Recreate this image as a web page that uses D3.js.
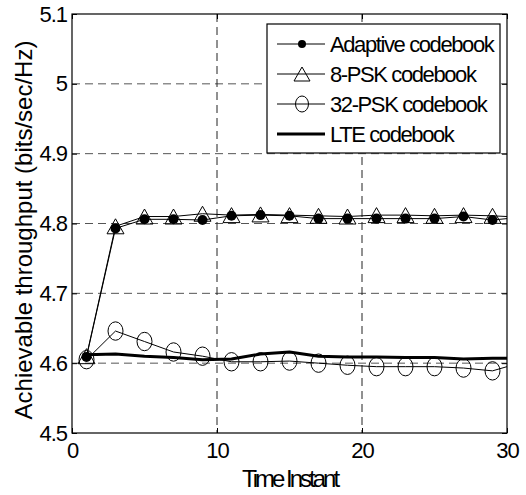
<!DOCTYPE html>
<html>
<head>
<meta charset="utf-8">
<script src="https://cdn.jsdelivr.net/npm/d3@7"></script>
<style>
  body { margin: 0; background: #fff; }
  svg { display: block; font-family: Arial, "Liberation Sans", sans-serif; }
</style>
</head>
<body>
<div id="chart"></div>
<script>
// Data (markers only on the odd instants)
const timeInstants = [1, 3, 5, 7, 9, 11, 13, 15, 17, 19, 21, 23, 25, 27, 29, 30];
const adaptive = [4.609, 4.793, 4.806, 4.806, 4.805, 4.811, 4.812, 4.811, 4.807, 4.807, 4.807, 4.807, 4.807, 4.810, 4.805, 4.807];
const psk8 = [4.610, 4.796, 4.810, 4.810, 4.814, 4.812, 4.813, 4.812, 4.811, 4.810, 4.812, 4.812, 4.811, 4.812, 4.811, 4.810];
const psk32 = [4.605, 4.646, 4.631, 4.616, 4.610, 4.602, 4.602, 4.603, 4.600, 4.597, 4.595, 4.595, 4.595, 4.593, 4.589, 4.595];
const lte = [4.612, 4.613, 4.610, 4.608, 4.605, 4.606, 4.613, 4.616, 4.610, 4.609, 4.609, 4.608, 4.608, 4.606, 4.607, 4.607];

const seriesNames = ["Adaptive codebook", "8-PSK codebook", "32-PSK codebook", "LTE codebook"];
const xTicks = [0, 10, 20, 30];
const yTicks = [4.5, 4.6, 4.7, 4.8, 4.9, 5, 5.1];

// Dimensions
const W = 526, H = 495;
const margin = { top: 14, right: 19, bottom: 62, left: 72 };
const width = W - margin.left - margin.right;
const height = H - margin.top - margin.bottom;

const svg = d3.select("#chart").append("svg")
    .attr("width", W)
    .attr("height", H);

const g = svg.append("g")
    .attr("transform", `translate(${margin.left},${margin.top})`);

// Scales
const x = d3.scaleLinear().domain([0, 30]).range([0, width]);
const y = d3.scaleLinear().domain([4.5, 5.1]).range([height, 0]);

// Dashed grid
g.append("g").selectAll("line")
    .data(yTicks.slice(1, -1))
    .enter().append("line")
    .attr("x1", 0).attr("x2", width)
    .attr("y1", d => y(d)).attr("y2", d => y(d))
    .attr("stroke", "#555").attr("stroke-dasharray", "8,5");

g.append("g").selectAll("line")
    .data(xTicks.slice(1, -1))
    .enter().append("line")
    .attr("x1", d => x(d)).attr("x2", d => x(d))
    .attr("y1", 0).attr("y2", height)
    .attr("stroke", "#222").attr("stroke-dasharray", "8,5");

// Axes (MATLAB-style inward ticks, box all round)
const fmt = d => String(+d.toFixed(1));
const styleAxis = sel => {
    sel.select(".domain").remove();
    sel.selectAll("line").attr("stroke", "#000");
    sel.selectAll("text")
        .attr("font-family", "Arial, 'Liberation Sans', sans-serif")
        .attr("font-size", 22)
        .attr("letter-spacing", "-1px")
        .attr("fill", "#000");
};

g.append("g")
    .attr("transform", `translate(0,${height})`)
    .call(d3.axisBottom(x).tickValues(xTicks).tickFormat(fmt).tickSize(-5).tickPadding(9))
    .call(styleAxis);

g.append("g")
    .call(d3.axisLeft(y).tickValues(yTicks).tickFormat(fmt).tickSize(-5).tickPadding(5))
    .call(styleAxis);

g.append("g")
    .call(d3.axisTop(x).tickValues(xTicks).tickFormat("").tickSize(-5))
    .call(styleAxis);

g.append("g")
    .attr("transform", `translate(${width},0)`)
    .call(d3.axisRight(y).tickValues(yTicks).tickFormat("").tickSize(-5))
    .call(styleAxis);

g.append("rect")
    .attr("width", width).attr("height", height)
    .attr("fill", "none").attr("stroke", "#000").attr("stroke-width", 1.2);

// Series
const series = [
    { name: seriesNames[0], values: adaptive, marker: "dot", lw: 1 },
    { name: seriesNames[1], values: psk8, marker: "triangle", lw: 1 },
    { name: seriesNames[2], values: psk32, marker: "ellipse", lw: 1 },
    { name: seriesNames[3], values: lte, marker: null, lw: 3 }
];

const line = d3.line()
    .x(d => x(d.t))
    .y(d => y(d.v));

const triPath = (w, h) => `M0,${-h / 2}L${w / 2},${h / 2}L${-w / 2},${h / 2}Z`;

function drawMarker(sel, type, big) {
    if (type === "dot") {
        sel.append("circle").attr("r", big ? 5 : 4).attr("fill", "#000");
    } else if (type === "triangle") {
        sel.append("path").attr("d", big ? triPath(17, 15) : triPath(16, 14))
            .attr("fill", "none").attr("stroke", "#000").attr("stroke-width", 1);
    } else if (type === "ellipse") {
        sel.append("ellipse").attr("rx", big ? 7.5 : 6.5).attr("ry", big ? 9.2 : 8)
            .attr("fill", "none").attr("stroke", "#000").attr("stroke-width", 1);
    }
}

series.forEach(s => {
    const pts = timeInstants.map((t, i) => ({ t: t, v: s.values[i] }));
    g.append("path")
        .datum(pts)
        .attr("fill", "none")
        .attr("stroke", "#000")
        .attr("stroke-width", s.lw)
        .attr("stroke-linejoin", "round")
        .attr("d", line);
    if (s.marker) {
        g.append("g").selectAll("g")
            .data(pts.filter(p => p.t % 2 === 1))
            .enter().append("g")
            .attr("transform", p => `translate(${x(p.t)},${y(p.v)})`)
            .each(function() { drawMarker(d3.select(this), s.marker, true); });
    }
});

// Legend
const legend = svg.append("g").attr("transform", "translate(267,24)");
legend.append("rect")
    .attr("width", 233).attr("height", 129)
    .attr("fill", "#fff").attr("stroke", "#000").attr("stroke-width", 1.2);

const rows = legend.selectAll(".row")
    .data(series)
    .enter().append("g")
    .attr("class", "row")
    .attr("transform", (d, i) => `translate(0,${20 + i * 30})`);

rows.append("line")
    .attr("x1", 10).attr("x2", 58)
    .attr("stroke", "#000")
    .attr("stroke-width", d => d.lw);

rows.each(function(d) {
    if (d.marker) {
        const m = d3.select(this).append("g").attr("transform", "translate(35,0)");
        drawMarker(m, d.marker, false);
    }
});

rows.append("text")
    .attr("x", 63)
    .attr("dy", "0.35em")
    .attr("font-size", 22)
    .attr("letter-spacing", "-1.4px")
    .text(d => d.name);

// Axis labels
svg.append("text")
    .attr("x", margin.left + width / 2)
    .attr("y", 487)
    .attr("text-anchor", "middle")
    .attr("font-size", 24)
    .attr("letter-spacing", "-3px")
    .text("Time Instant");

svg.append("text")
    .attr("transform", "translate(32,230) rotate(-90)")
    .attr("text-anchor", "middle")
    .attr("font-size", 24)
    .text("Achievable throughput (bits/sec/Hz)");
</script>
</body>
</html>
